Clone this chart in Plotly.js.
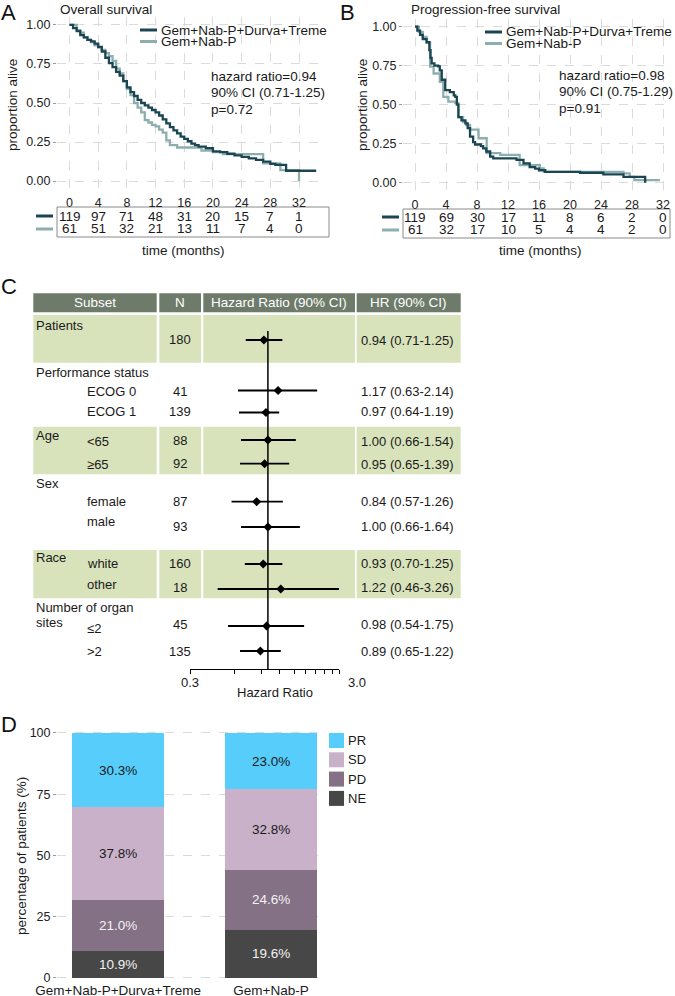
<!DOCTYPE html>
<html><head><meta charset="utf-8">
<script src="https://cdn.plot.ly/plotly-3.0.1.min.js"></script>
<style>html,body{margin:0;padding:0;background:#fff}#chart{width:675px;height:996px}</style>
</head><body><div id="chart"></div>
<script>
// ---------------- DATA ----------------
const armNames = ['Gem+Nab-P+Durva+Treme', 'Gem+Nab-P'];

// Panel A: overall survival (Kaplan-Meier steps)
const osTimeCombo = [0,0.5,1,1.5,2,2.5,3,3.5,4,4.5,5,5.5,6,6.5,7,7.5,8,8.5,9,9.5,10,10.5,11,11.5,12,12.5,13,13.5,14,14.5,15,15.5,16,16.5,17,17.5,18,19,20,21,22,23,24,25,26,27,28,28.7,30.2,34.4];
const osSurvCombo = [1,0.98,0.96,0.935,0.92,0.905,0.895,0.88,0.86,0.83,0.79,0.755,0.73,0.70,0.675,0.64,0.60,0.57,0.545,0.52,0.50,0.485,0.47,0.455,0.44,0.42,0.395,0.37,0.345,0.325,0.305,0.285,0.27,0.255,0.24,0.23,0.22,0.21,0.19,0.185,0.175,0.165,0.155,0.145,0.135,0.125,0.11,0.103,0.066,0.066];
const osTimeControl = [0,1,1.5,2,2.5,3,3.5,4,4.5,5,5.5,6,6.5,7,7.5,8,8.5,9,9.5,10,10.5,11,11.5,12,12.5,13,13.5,14,15,18.4,20,21.4,27,29.4,32];
const osSurvControl = [1,0.967,0.95,0.92,0.905,0.89,0.87,0.855,0.84,0.82,0.80,0.77,0.72,0.69,0.64,0.59,0.55,0.50,0.47,0.44,0.39,0.375,0.36,0.35,0.33,0.31,0.26,0.23,0.215,0.195,0.185,0.173,0.113,0.07,0];

// Panel B: progression-free survival
const pfsTimeCombo = [0,0.3,0.65,1,1.5,1.85,2,2.15,2.5,3,3.2,3.45,3.9,4.5,5,5.2,5.4,5.6,6,6.5,6.8,7.1,7.5,7.75,8.5,8.8,9.2,9.7,10.1,13.1,14,14.8,15.5,16,16.8,21.3,24.3,26.9,29.7];
const pfsSurvCombo = [1,0.975,0.947,0.92,0.90,0.85,0.80,0.765,0.75,0.745,0.72,0.66,0.594,0.58,0.56,0.55,0.50,0.42,0.40,0.38,0.35,0.295,0.26,0.245,0.235,0.22,0.20,0.167,0.156,0.146,0.124,0.10,0.09,0.08,0.07,0.064,0.054,0.038,0];
const pfsTimeControl = [0,0.5,1,1.5,1.95,2.4,3.2,3.65,4.3,5.2,5.6,6.2,6.6,7.1,8.2,9.25,11,13.5,16.1,16.6,26.9,27.7,28.3,31.6];
const pfsSurvControl = [1,0.967,0.935,0.90,0.744,0.70,0.647,0.55,0.52,0.51,0.42,0.39,0.37,0.34,0.285,0.19,0.178,0.113,0.092,0.07,0.06,0.038,0.017,0.017];

// numbers at risk
const riskTimes = [0,4,8,12,16,20,24,28,32];
const osRiskCombo = [119,97,71,48,31,20,15,7,1];
const osRiskControl = [61,51,32,21,13,11,7,4,0];
const pfsRiskCombo = [119,69,30,17,11,8,6,2,0];
const pfsRiskControl = [61,32,17,10,5,4,4,2,0];
const osStats = ['hazard ratio=0.94', '90% CI (0.71-1.25)', 'p=0.72'];
const pfsStats = ['hazard ratio=0.98', '90% CI (0.75-1.29)', 'p=0.91'];
const survTicks = [0, 0.25, 0.5, 0.75, 1];
const survTickText = ['0.00', '0.25', '0.50', '0.75', '1.00'];

// Panel C: forest plot
const tableHeaders = ['Subset', 'N', 'Hazard Ratio (90% CI)', 'HR (90% CI)'];
const groupLabels = ['Patients', 'Performance status', 'Age', 'Sex', 'Race', 'Number of organ', 'sites'];
const subgroupLabels = ['', 'ECOG 0', 'ECOG 1', '<65', '≥65', 'female', 'male', 'white', 'other', '≤2', '>2'];
const nPatients = [180, 41, 139, 88, 92, 87, 93, 160, 18, 45, 135];
const hrValue = [0.94, 1.17, 0.97, 1.00, 0.95, 0.84, 1.00, 0.93, 1.22, 0.98, 0.89];
const hrLow   = [0.71, 0.63, 0.64, 0.66, 0.65, 0.57, 0.66, 0.70, 0.46, 0.54, 0.65];
const hrHigh  = [1.25, 2.14, 1.19, 1.54, 1.39, 1.26, 1.64, 1.25, 3.26, 1.75, 1.22];
const hrAxisTicks = [0.3, 0.6, 0.9, 1.2, 1.5, 1.8, 2.1, 2.4, 2.7, 3.0];
const hrAxisLabels = ['0.3', '3.0'];

// Panel D: best response
const responseCats = ['PR', 'SD', 'PD', 'NE'];
const responseCombo = [30.3, 37.8, 21.0, 10.9];
const responseControl = [23.0, 32.8, 24.6, 19.6];
const pctTicks = [0, 25, 50, 75, 100];

// ---------------- LAYOUT HELPERS ----------------
const W = 675, H = 996;
const PX = x => x / W;
const PY = y => 1 - y / H;
const FONT = 'Liberation Sans, Arial, sans-serif';
const DARK = '#1b4552', LIGHT = '#8daeaf';
const TXT = '#1a1a1a';
const GRID = '#dadada';
const respColors = {PR: '#56cdfb', SD: '#c9b1ca', PD: '#847186', NE: '#474747'};
const respTextColors = {PR: '#1a1a1a', SD: '#1a1a1a', PD: '#f2f2f2', NE: '#f2f2f2'};

const traces = [];
const annotations = [];
const shapes = [];

function ann(x, y, text, opts) {
  annotations.push(Object.assign({
    xref: 'paper', yref: 'paper', x: PX(x), y: PY(y), text: text, showarrow: false,
    xanchor: 'left', yanchor: 'middle', font: {family: FONT, size: 13, color: TXT}, borderpad: 0
  }, opts || {}));
}
function rect(x0, y0, x1, y1, fill, line) {
  shapes.push({type: 'rect', xref: 'paper', yref: 'paper', x0: PX(x0), x1: PX(x1), y0: PY(y0), y1: PY(y1),
    fillcolor: fill, line: line || {width: 0}, layer: 'below'});
}
function hline(x0, x1, y, color, width) {
  shapes.push({type: 'line', xref: 'paper', yref: 'paper', x0: PX(x0), x1: PX(x1), y0: PY(y), y1: PY(y),
    line: {color: color, width: width}});
}

// ---------------- PANELS A & B ----------------
function kmPanel(cfg) {
  traces.push({x: cfg.tC, y: cfg.sC, xaxis: cfg.xa, yaxis: cfg.ya, type: 'scatter', mode: 'lines',
    line: {shape: 'hv', color: DARK, width: 2.3}, hoverinfo: 'skip', showlegend: false});
  traces.push({x: cfg.tL, y: cfg.sL, xaxis: cfg.xa, yaxis: cfg.ya, type: 'scatter', mode: 'lines',
    line: {shape: 'hv', color: LIGHT, width: 2.3}, hoverinfo: 'skip', showlegend: false});
  // but draw dark on top: reorder
  const n = traces.length;
  const tmp = traces[n - 2]; traces[n - 2] = traces[n - 1]; traces[n - 1] = tmp;

  // panel letter and title
  ann(cfg.letterX, cfg.letterY, cfg.letter, {font: {family: FONT, size: 22, color: '#111'}});
  ann(cfg.titleX, 9, cfg.title, {font: {family: FONT, size: 13.5, color: TXT}});
  // y title
  ann(cfg.yTitleX, 105, 'proportion alive', {textangle: -90, xanchor: 'center', font: {family: FONT, size: 13.5, color: TXT}});
  // legend
  hline(cfg.legX0, cfg.legX0 + 17, cfg.legY0, DARK, 3);
  hline(cfg.legX0, cfg.legX0 + 17, cfg.legY0 + 11.5, LIGHT, 3);
  ann(cfg.legX0 + 20, cfg.legY0, armNames[0], {font: {family: FONT, size: 13.5, color: TXT}});
  ann(cfg.legX0 + 20, cfg.legY0 + 11.5, armNames[1], {font: {family: FONT, size: 13.5, color: TXT}});
  // stats text
  cfg.stats.forEach((s, i) => ann(cfg.statX, cfg.statY + i * 16.5, s, {font: {family: FONT, size: 13.5, color: TXT}}));
  // risk table
  rect(cfg.boxX0, cfg.boxY0, cfg.boxX1, cfg.boxY1, 'rgba(0,0,0,0)', {color: '#8a8a8a', width: 1});
  hline(cfg.boxX0 - 21, cfg.boxX0 - 4, cfg.rowY0, DARK, 3);
  hline(cfg.boxX0 - 21, cfg.boxX0 - 4, cfg.rowY1, LIGHT, 3);
  riskTimes.forEach((t, i) => {
    annotations.push({xref: cfg.xa, yref: 'paper', x: t, y: PY(cfg.rowY0), text: String(cfg.rC[i]), showarrow: false,
      xanchor: 'center', yanchor: 'middle', font: {family: FONT, size: 13.5, color: TXT}});
    annotations.push({xref: cfg.xa, yref: 'paper', x: t, y: PY(cfg.rowY1), text: String(cfg.rL[i]), showarrow: false,
      xanchor: 'center', yanchor: 'middle', font: {family: FONT, size: 13.5, color: TXT}});
  });
  ann(cfg.timeX, 250, 'time (months)', {xanchor: 'center', font: {family: FONT, size: 13.5, color: TXT}});
}

kmPanel({xa: 'x', ya: 'y', tC: osTimeCombo, sC: osSurvCombo, tL: osTimeControl, sL: osSurvControl,
  letter: 'A', letterX: 0, letterY: 12, title: 'Overall survival', titleX: 59, yTitleX: 13,
  legX0: 140, legY0: 30, stats: osStats, statX: 210, statY: 76,
  boxX0: 57, boxY0: 207, boxX1: 329, boxY1: 237, rowY0: 216, rowY1: 229, rC: osRiskCombo, rL: osRiskControl, timeX: 183});
kmPanel({xa: 'x2', ya: 'y2', tC: pfsTimeCombo, sC: pfsSurvCombo, tL: pfsTimeControl, sL: pfsSurvControl,
  letter: 'B', letterX: 339, letterY: 12, title: 'Progression-free survival', titleX: 410, yTitleX: 363,
  legX0: 485, legY0: 32, stats: pfsStats, statX: 558, statY: 75,
  boxX0: 403, boxY0: 209, boxX1: 670, boxY1: 238, rowY0: 217, rowY1: 230, rC: pfsRiskCombo, rL: pfsRiskControl, timeX: 540});

// ---------------- PANEL C ----------------
ann(0, 286, 'C', {font: {family: FONT, size: 22, color: '#111'}});
const cols = [[33.3, 156.7], [159.3, 201], [203.3, 355], [356.7, 460.7]];
const HEADER = '#6e7b6a', BAND = '#d8e3bc';
cols.forEach((c, i) => {
  rect(c[0], 293.3, c[1], 312.3, HEADER);
  ann((c[0] + c[1]) / 2, 302.5, tableHeaders[i], {xanchor: 'center', font: {family: FONT, size: 13.5, color: '#ffffff'}});
});
const bands = [[315, 362.7], [426.7, 474.3], [550, 598.3]];
bands.forEach(b => cols.forEach(c => rect(c[0], b[0], c[1], b[1], BAND)));

const groupLabelY = [325, 372.7, 435, 483.5, 557.7, 607.3, 622.7];
groupLabels.forEach((g, i) => ann(34.5, groupLabelY[i], g));
const subLabelY = [null, 391.7, 411.7, 442, 464, 501.3, 521.7, 563.3, 584.7, 628.3, 651];
const nTextY = [339, 391, 411, 440.7, 463.7, 501, 526.7, 563, 587.3, 624, 651];
const hrTextY = [340, 391.3, 411.3, 441.3, 464, 501.3, 526.3, 563.3, 587.3, 624.7, 651];
const forestY = [340, 390.5, 412.5, 440, 463.7, 501.7, 527, 564, 589, 626, 651];
subgroupLabels.forEach((s, i) => { if (s) ann(85.5, subLabelY[i], s); });
nPatients.forEach((n, i) => ann(180, nTextY[i], String(n), {xanchor: 'center'}));
hrValue.forEach((h, i) => ann(359.5, hrTextY[i],
  h.toFixed(2) + ' (' + hrLow[i].toFixed(2) + '-' + hrHigh[i].toFixed(2) + ')'));

traces.push({x: hrValue, y: forestY, xaxis: 'x3', yaxis: 'y3', type: 'scatter', mode: 'markers',
  marker: {symbol: 'diamond', size: 7, color: '#000'},
  error_x: {type: 'data', symmetric: false, array: hrHigh.map((v, i) => v - hrValue[i]),
    arrayminus: hrLow.map((v, i) => hrValue[i] - v), width: 0, thickness: 1.8, color: '#000'},
  hoverinfo: 'skip', showlegend: false, cliponaxis: false});
shapes.push({type: 'line', xref: 'x3', yref: 'y3', x0: 1, x1: 1, y0: 331, y1: 669, line: {color: '#000', width: 1.5}, layer: 'above'});
ann(190, 682, hrAxisLabels[0], {xanchor: 'center'});
ann(357, 682, hrAxisLabels[1], {xanchor: 'center'});
ann(275, 692, 'Hazard Ratio', {xanchor: 'center'});

// ---------------- PANEL D ----------------
ann(0, 724, 'D', {font: {family: FONT, size: 22, color: '#111'}});
const order = ['NE', 'PD', 'SD', 'PR'];
order.forEach(cat => {
  const k = responseCats.indexOf(cat);
  traces.push({type: 'bar', x: armNames, y: [responseCombo[k], responseControl[k]], xaxis: 'x4', yaxis: 'y4',
    width: 0.6, marker: {color: respColors[cat], line: {width: 0}},
    text: [responseCombo[k].toFixed(1) + '%', responseControl[k].toFixed(1) + '%'],
    textposition: 'inside', insidetextanchor: 'middle', textangle: 0, constraintext: 'none',
    textfont: {family: FONT, size: 13.5, color: respTextColors[cat]},
    hoverinfo: 'skip', showlegend: false});
});
responseCats.forEach((cat, i) => {
  const y0 = 733 + i * 19.3;
  rect(329, y0, 344, y0 + 15, respColors[cat]);
  ann(346.5, y0 + 7.5, cat);
});
ann(21, 856, 'percentage of patients (%)', {textangle: -90, xanchor: 'center', font: {family: FONT, size: 13.5, color: TXT}});

// ---------------- AXES ----------------
const tickFont = {family: FONT, size: 12.5, color: '#222'};
function kmX(domPx, range, anchor) {
  return {domain: [PX(domPx[0]), PX(domPx[1])], range: range, anchor: anchor, tickvals: riskTimes,
    ticks: 'outside', ticklen: 2, tickcolor: 'rgba(0,0,0,0)', tickfont: tickFont, showgrid: true, gridcolor: GRID, griddash: 'dash',
    gridwidth: 1, zeroline: false, showline: false, fixedrange: true};
}
function kmY(domPy, anchor) {
  return {domain: [PY(domPy[1]), PY(domPy[0])], range: [-0.051, 1.051], anchor: anchor, tickvals: survTicks, ticktext: survTickText,
    ticks: 'outside', ticklen: 3, tickcolor: '#9a9a9a', tickfont: tickFont, showgrid: true, gridcolor: GRID, griddash: 'dash',
    zeroline: false, showline: false, fixedrange: true};
}

const layout = {
  width: W, height: H, margin: {l: 0, r: 0, t: 0, b: 0}, paper_bgcolor: '#fff', plot_bgcolor: 'rgba(0,0,0,0)',
  showlegend: false, font: {family: FONT, color: TXT}, barmode: 'stack',
  xaxis: kmX([57, 327], [-(69.5 - 57) / 7.172, (327 - 69.5) / 7.172], 'y'),
  yaxis: kmY([17, 189], 'x'),
  xaxis2: kmX([403, 670], [-(415 - 403) / 7.75, (670 - 415) / 7.75], 'y2'),
  yaxis2: kmY([18.7, 190.7], 'x2'),
  xaxis3: {type: 'log', domain: [PX(190), PX(339)], range: [Math.log10(0.3), Math.log10(3)], anchor: 'y3',
    tickvals: hrAxisTicks, showticklabels: false, ticks: 'outside', ticklen: 4, tickcolor: '#000', tickwidth: 1,
    showline: true, linecolor: '#000', linewidth: 1.2, showgrid: false, zeroline: false, fixedrange: true},
  yaxis3: {domain: [PY(669), PY(293)], range: [669, 293], anchor: 'x3', visible: false, fixedrange: true},
  xaxis4: {domain: [PX(57), PX(318)], range: [-0.4, 1.307], anchor: 'y4', type: 'category',
    ticks: '', tickfont: {family: FONT, size: 13.5, color: TXT}, showgrid: false, zeroline: false, showline: false, fixedrange: true},
  yaxis4: {domain: [PY(980), PY(730)], range: [-0.82, 101.22], anchor: 'x4', tickvals: pctTicks,
    ticks: 'outside', ticklen: 3, tickcolor: '#9a9a9a', tickfont: tickFont, showgrid: true, gridcolor: GRID, griddash: 'dash',
    zeroline: false, showline: false, fixedrange: true},
  bargap: 0.4,
  annotations: annotations, shapes: shapes
};

Plotly.newPlot('chart', traces, layout, {staticPlot: true, displayModeBar: false});
</script></body></html>
